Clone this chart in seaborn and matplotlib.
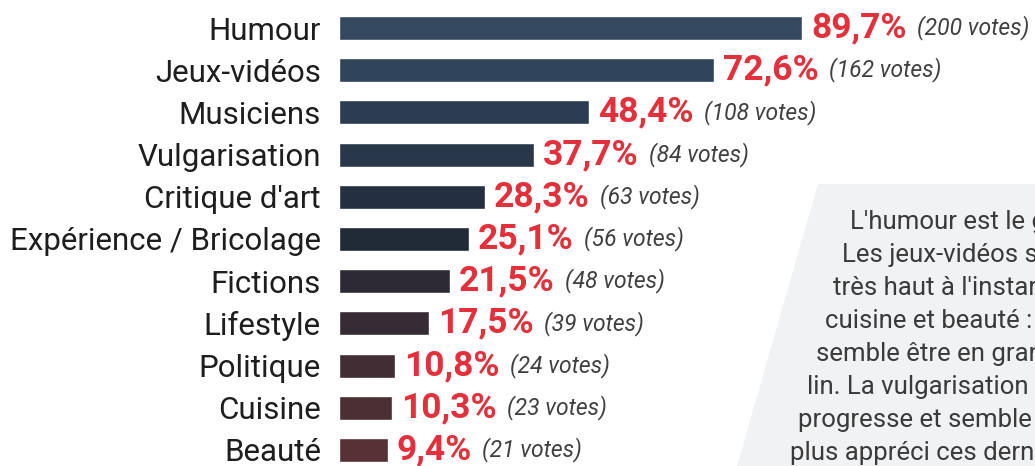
import numpy as np
import pandas as pd
import matplotlib
matplotlib.use("Agg")
import matplotlib.pyplot as plt
import seaborn as sns
from matplotlib.patches import Polygon

categories = ["Humour", "Jeux-vidéos", "Musiciens", "Vulgarisation", "Critique d'art",
              "Expérience / Bricolage", "Fictions", "Lifestyle", "Politique", "Cuisine", "Beauté"]
percents = [89.7, 72.6, 48.4, 37.7, 28.3, 25.1, 21.5, 17.5, 10.8, 10.3, 9.4]
votes = [200, 162, 108, 84, 63, 56, 48, 39, 24, 23, 21]
bar_colors = ["#34495f", "#30445b", "#2c3c52", "#28374a", "#243041", "#212a37",
              "#2e2a35", "#372b35", "#432d34", "#4b2f34", "#573135"]
note_lines = ["L'humour est le genre le plus",
              "Les jeux-vidéos se placent",
              "très haut à l'instar de la",
              "cuisine et beauté :  le",
              "semble être en grande",
              "lin. La vulgarisation est",
              "progresse et semble et",
              "plus appréci ces dernières"]

df = pd.DataFrame({"cat": categories, "pct": percents, "votes": votes})

sns.set_theme(style="white")
plt.rcParams["font.family"] = ["Roboto", "DejaVu Sans"]

fig = plt.figure(figsize=(10.35, 4.66), dpi=100)
ax = fig.add_axes([339 / 1035, 0, 696 / 1035, 1])

# grey comment panel behind everything
panel = Polygon([[818 / 1035, 1 - 184 / 466], [1, 1 - 184 / 466], [1, 0], [737 / 1035, 0]],
                closed=True, transform=fig.transFigure, facecolor="#f1f2f4",
                edgecolor="none", zorder=0)
fig.patches.append(panel)
ax.patch.set_alpha(0)

sns.barplot(data=df, x="pct", y="cat", hue="cat", palette=bar_colors,
            legend=False, width=0.57, saturation=1, ax=ax)

ax.set_xlim(0, 696 / 5.16)
ax.set_ylim(10.38, -0.664)
ax.set_xlabel("")
ax.set_ylabel("")
ax.set_xticks([])
sns.despine(ax=ax, left=True, bottom=True)
ax.tick_params(axis="y", length=0, pad=13)
for lab in ax.get_yticklabels():
    lab.set_fontsize(22.5)
    lab.set_color("#1e1e1e")

for i, (p, v) in enumerate(zip(percents, votes)):
    t = ax.annotate(f"{p:.1f}%".replace(".", ","), xy=(p, i), xytext=(6.5, 0),
                    textcoords="offset points", ha="left", va="center",
                    fontsize=25.5, fontweight="bold", color="#e3303b")
    ax.annotate(f"({v} votes)", xy=(1, 0.13), xycoords=t, xytext=(7.5, 0),
                textcoords="offset points", ha="left", va="bottom",
                fontsize=16.5, fontstyle="italic", color="#404040")

left_x = [850, 842, 833, 825, 816, 807, 798, 790]
for k, (line, lx) in enumerate(zip(note_lines, left_x)):
    fig.text(lx / 1035, 1 - (222 + 33 * k) / 466, line, ha="left", va="center",
             fontsize=18.5, color="#3a3a3a")

fig.savefig("out.png", dpi=100)
